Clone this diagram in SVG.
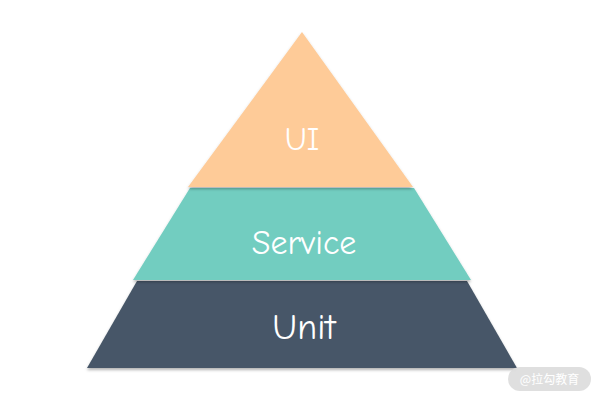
<svg xmlns="http://www.w3.org/2000/svg" width="600" height="400" viewBox="0 0 600 400">
<defs>
<filter id="sh" x="-10%" y="-10%" width="120%" height="130%">
<feDropShadow dx="0" dy="2" stdDeviation="1.5" flood-color="#000" flood-opacity="0.3"/>
</filter>
<style>
.lbl{font-family:"Comic Neue","Open Sans","DejaVu Sans",sans-serif;fill:#fff;text-anchor:middle;}
</style>
</defs>
<rect width="600" height="400" fill="#fff"/>
<g id="unit">
<polygon points="137,281 467,281 517,368 87,368" fill="#475767" filter="url(#sh)"/>
<text class="lbl" x="304" y="339" font-size="36">Unit</text>
</g>
<g id="service">
<polygon points="190,188 414,188 471,280 133,280" fill="#72CDC0" filter="url(#sh)"/>
<text class="lbl" x="304" y="254" font-size="34">Service</text>
</g>
<g id="ui">
<polygon points="302,32 413,187 188,187" fill="#FECB98" filter="url(#sh)"/>
<text class="lbl" x="302" y="150" font-size="32">UI</text>
</g>
<g id="connectors"/>
<g id="watermark">
<rect x="508" y="367" width="83" height="24" rx="12" fill="#dcdcdc" opacity="0.9"/>
<text x="549.5" y="384" font-size="12" fill="#fff" text-anchor="middle" font-family="'Noto Sans CJK SC',sans-serif">@拉勾教育</text>
</g>
</svg>
